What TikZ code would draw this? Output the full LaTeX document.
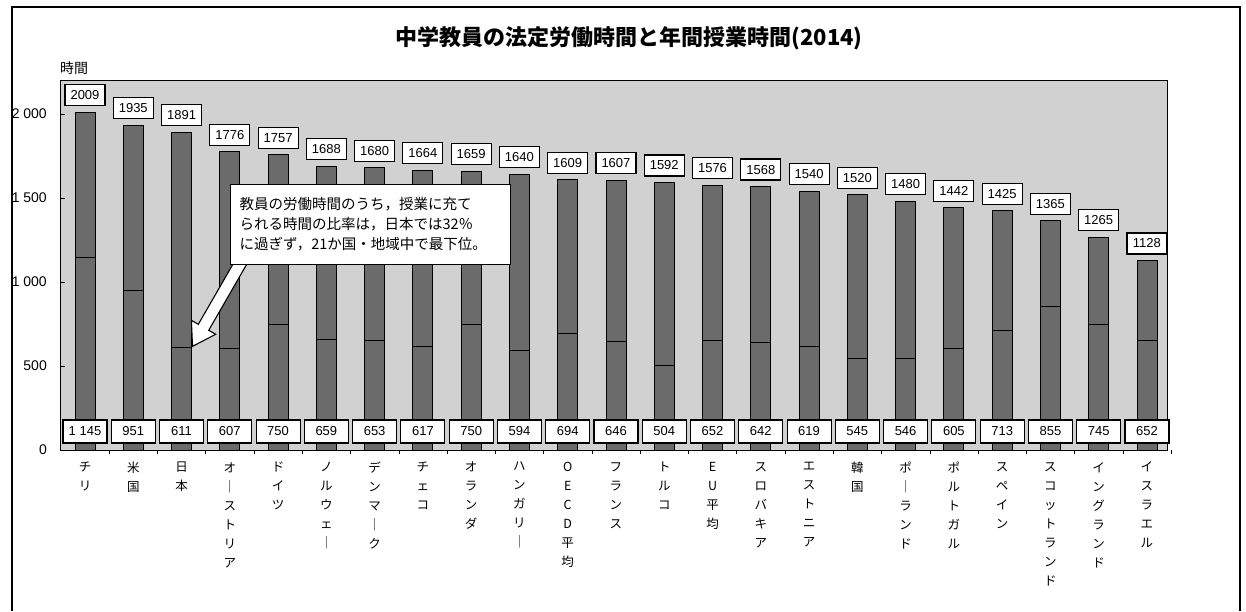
\documentclass[tikz,border=0pt]{standalone}
\usepackage{fontspec}
\setmainfont{Noto Sans CJK JP}
\newfontfamily\numfont{Liberation Sans}
\usepackage{tikz}
\usetikzlibrary{positioning,calc}

\begin{document}
\begin{tikzpicture}[x=1pt,y=-1pt,
    bar/.style={draw, fill=black!58, line width=0.8pt},
    topbox/.style={rectangle, draw, fill=white, line width=1.1pt, inner sep=0pt,
      minimum width=40, minimum height=21, font=\numfont\fontsize{13}{13}\selectfont},
    basebox/.style={topbox, minimum width=44, minimum height=23},
    cname/.style={align=center, inner sep=0pt, font=\fontsize{12.5}{19}\selectfont},
    ylab/.style={anchor=east, inner sep=0pt, font=\numfont\fontsize{14}{14}\selectfont},
    note/.style={rectangle, draw, fill=white, line width=1.1pt, align=left,
      text width=262, minimum height=80, inner xsep=9, font=\fontsize{14.5}{20}\selectfont}]

    \useasboundingbox (0,0) rectangle (1246,611);
    \draw[line width=1.5pt] (12,611) -- (12,7) -- (1240,7) -- (1240,611);

    \node[font=\bfseries\fontsize{22}{26}\selectfont] (title) at (629,38)
      {中学教員の法定労働時間と年間授業時間(2014)};
    \node[anchor=west, inner sep=0pt, font=\fontsize{14}{14}\selectfont] (unit) at (60,68) {時間};

    \coordinate (plotnw) at (60,80);
    \coordinate (plotse) at (1167,450);
    \fill[black!18] (plotnw) rectangle (plotse);
    \draw[line width=0.8pt] (plotnw) rectangle (plotse);

    \foreach \v/\t [count=\k] in {0/0, 500/500, 1000/1 000, 1500/1 500, 2000/2 000}{
      \node[ylab] (ytick\k) at (47,{450-\v*0.168}) {\t};
      \draw (60,{450-\v*0.168}) -- (65,{450-\v*0.168});
    }

    \foreach \tot/\tea/\lab [count=\i from 0] in {2009/1145/{チ\\リ}, 1935/951/{米\\国},
      1891/611/{日\\本}, 1776/607/{オ\\｜\\ス\\ト\\リ\\ア}, 1757/750/{ド\\イ\\ツ},
      1688/659/{ノ\\ル\\ウ\\ェ\\｜}, 1680/653/{デ\\ン\\マ\\｜\\ク}, 1664/617/{チ\\ェ\\コ},
      1659/750/{オ\\ラ\\ン\\ダ}, 1640/594/{ハ\\ン\\ガ\\リ\\｜}, 1609/694/{O\\E\\C\\D\\平\\均},
      1607/646/{フ\\ラ\\ン\\ス}, 1592/504/{ト\\ル\\コ}, 1576/652/{E\\U\\平\\均},
      1568/642/{ス\\ロ\\バ\\キ\\ア}, 1540/619/{エ\\ス\\ト\\ニ\\ア}, 1520/545/{韓\\国},
      1480/546/{ポ\\｜\\ラ\\ン\\ド}, 1442/605/{ポ\\ル\\ト\\ガ\\ル}, 1425/713/{ス\\ペ\\イ\\ン},
      1365/855/{ス\\コ\\ッ\\ト\\ラ\\ン\\ド}, 1265/745/{イ\\ン\\グ\\ラ\\ン\\ド},
      1128/652/{イ\\ス\\ラ\\エ\\ル}}{
      \pgfmathsetmacro\x{85+\i*48.27}
      \pgfmathsetmacro\ytop{450-\tot*0.168}
      \pgfmathsetmacro\ydiv{450-\tea*0.168}
      \draw[bar] (\x-10,450) rectangle (\x+10,\ytop);
      \draw[line width=0.8pt] (\x-10,\ydiv) -- (\x+10,\ydiv);
      \coordinate (div\i) at (\x+10,\ydiv);
      \node[topbox, anchor=south] (top\i) at (\x,\ytop-6) {\tot};
      \node[basebox] (base\i) at (\x,431.5)
        {\pgfmathprintnumber[int detect, 1000 sep={\ }, assume math mode=true]{\tea}};
      \node[cname, anchor=north] (lab\i) at (\x,462) {\lab};
      \draw (\x+24.1,450) -- (\x+24.1,454);
    }

    \coordinate (notesw) at (230,265);
    \coordinate (tip) at ($(div2)+(1,-1)$);
    \coordinate (tail) at ($(notesw)+(14,-8)$);
    \coordinate (head) at ($(tip)!22pt!(tail)$);
    \filldraw[fill=white, line width=1.1pt]
      ($(tail)!6pt!90:(tip)$) -- ($(head)!6pt!-90:(tail)$) -- ($(head)!14pt!-90:(tail)$)
      -- (tip) -- ($(head)!14pt!90:(tail)$) -- ($(head)!6pt!90:(tail)$)
      -- ($(tail)!6pt!-90:(tip)$) -- cycle;

    \node[note, anchor=south west] (callout) at (notesw)
      {教員の労働時間のうち，授業に充て\\られる時間の比率は，日本では32％\\に過ぎず，21か国・地域中で最下位。};
\end{tikzpicture}
\end{document}
